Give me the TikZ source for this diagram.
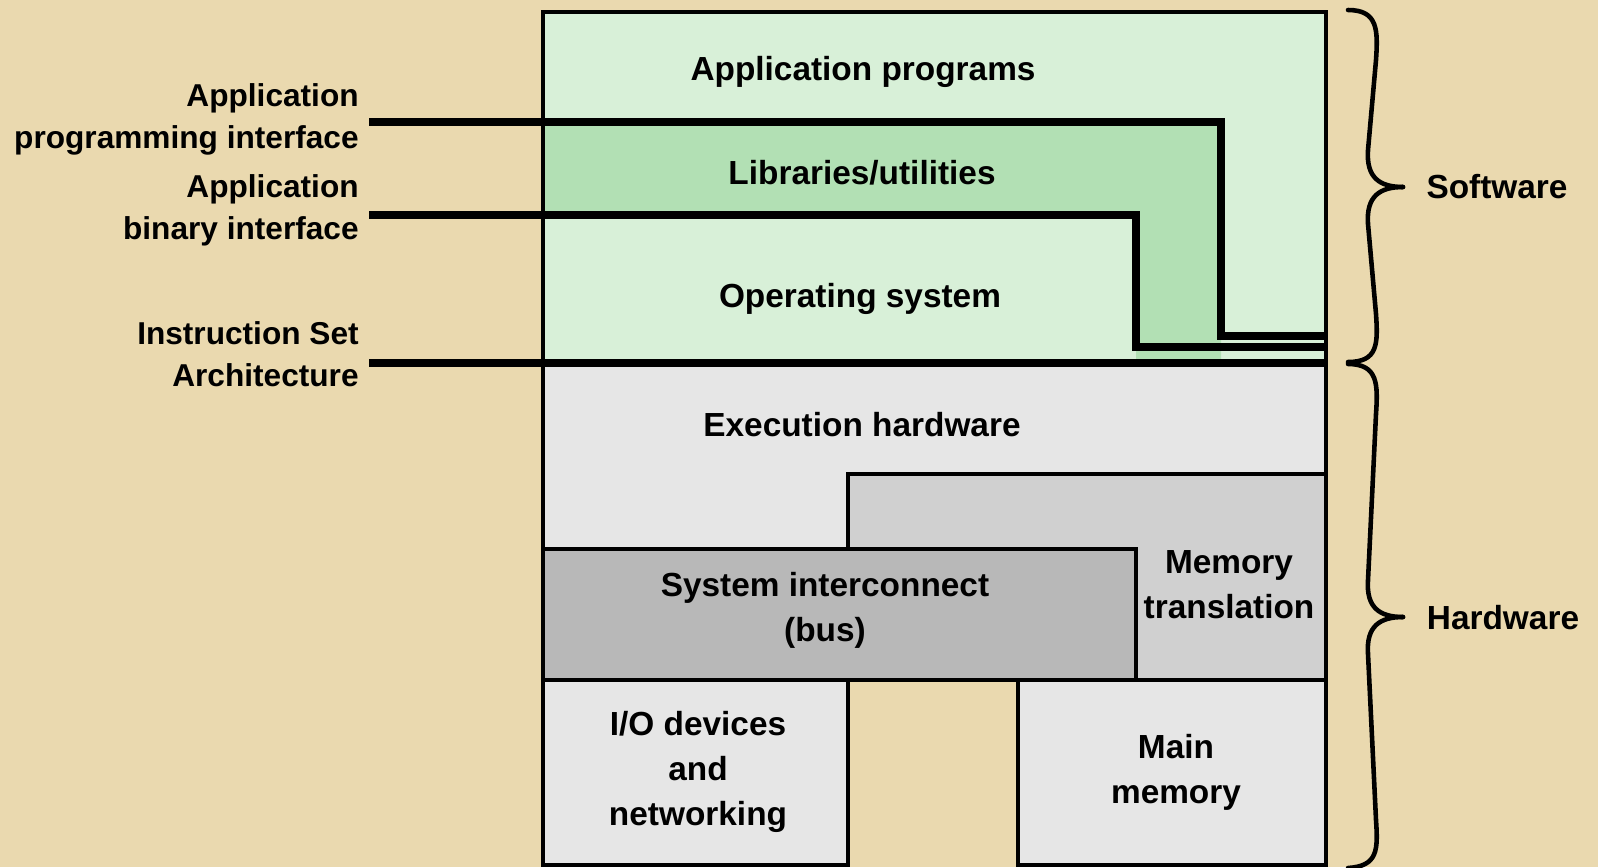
\documentclass[tikz,border=0pt]{standalone}
\usepackage{fontspec}
\setmainfont{Liberation Sans}
\definecolor{parch}{RGB}{234,217,175}
\definecolor{appgreen}{RGB}{216,240,216}
\definecolor{libgreen}{RGB}{178,224,180}
\definecolor{hwgrey}{RGB}{230,230,230}
\definecolor{mmugrey}{RGB}{208,208,208}
\definecolor{busgrey}{RGB}{184,184,184}
\begin{document}
\begin{tikzpicture}[x=0.02cm, y=-0.02cm,
    box/.style={draw, line width=2.3pt},
    iface/.style={line width=4.5pt},
    lbl/.style={font=\bfseries\fontsize{19}{25.5}\selectfont, align=center},
    side/.style={font=\bfseries\fontsize{18}{24}\selectfont, align=right, anchor=east, inner xsep=0pt},
    brace/.style={line width=2.6pt, line cap=round}]
    \useasboundingbox (0,0) rectangle (1598,867);
    \clip (0,0) rectangle (1598,867);
    \fill[parch] (0,0) rectangle (1598,867);

    % software layers
    \fill[appgreen] (543,12) rectangle (1326,363);
    \fill[libgreen] (543,122) -- (1221,122) -- (1221,363) -- (1136,363) -- (1136,215) -- (543,215) -- cycle;

    % hardware layers
    \fill[hwgrey] (543,363) rectangle (1326,680);
    \draw[box, fill=mmugrey] (848,474) rectangle (1326,680);
    \draw[box, fill=busgrey] (543,549) rectangle (1136,680);
    \draw[box, fill=hwgrey] (543,680) rectangle (848,865);
    \draw[box, fill=hwgrey] (1018,680) rectangle (1326,865);
    \draw[box] (543,12) rectangle (1326,680);

    % interfaces
    \coordinate (apiin) at (369,122);
    \coordinate (apiout) at (1326,336);
    \coordinate (abiin) at (369,215);
    \coordinate (abiout) at (1326,347);
    \coordinate (isain) at (369,363);
    \coordinate (isaout) at (1326,363);
    \draw[iface] (apiin) -- (1221,122) -- (1221,336) -- (apiout);
    \draw[iface] (abiin) -- (1136,215) -- (1136,347) -- (abiout);
    \draw[iface] (isain) -- (isaout);

    \node[side] (api) at (359,119) {Application\\programming interface};
    \node[side] (abi) at (359,210) {Application\\binary interface};
    \node[side] (isa) at (359,354) {Instruction Set\\Architecture};

    \node[lbl] (apps) at (863,72) {Application programs};
    \node[lbl] (libs) at (862,173) {Libraries/utilities};
    \node[lbl] (os) at (860,299) {Operating system};
    \node[lbl] (exec) at (862,425) {Execution hardware};
    \node[lbl] (bus) at (825,610) {System interconnect\\(bus)};
    \node[lbl] (mmu) at (1229,585) {Memory\\translation};
    \node[lbl] (io) at (698,772) {I/O devices\\and\\networking};
    \node[lbl] (mem) at (1176,772) {Main\\memory};

    % braces
    \draw[brace] (1348,10) .. controls (1378,10) and (1378,30) .. (1376,60) -- (1368,150)
        .. controls (1366,178) and (1380,187) .. (1403,187);
    \draw[brace] (1403,187) .. controls (1380,187) and (1366,196) .. (1368,224) -- (1376,314)
        .. controls (1378,344) and (1378,362) .. (1348,362);
    \draw[brace] (1348,364) .. controls (1378,364) and (1378,384) .. (1376,414) -- (1368,580)
        .. controls (1366,608) and (1380,617) .. (1403,617);
    \draw[brace] (1403,617) .. controls (1380,617) and (1366,626) .. (1368,654) -- (1376,820)
        .. controls (1378,850) and (1378,866) .. (1348,868);
    \node[lbl] (sw) at (1497,187) {Software};
    \node[lbl] (hw) at (1503,618) {Hardware};
\end{tikzpicture}
\end{document}
